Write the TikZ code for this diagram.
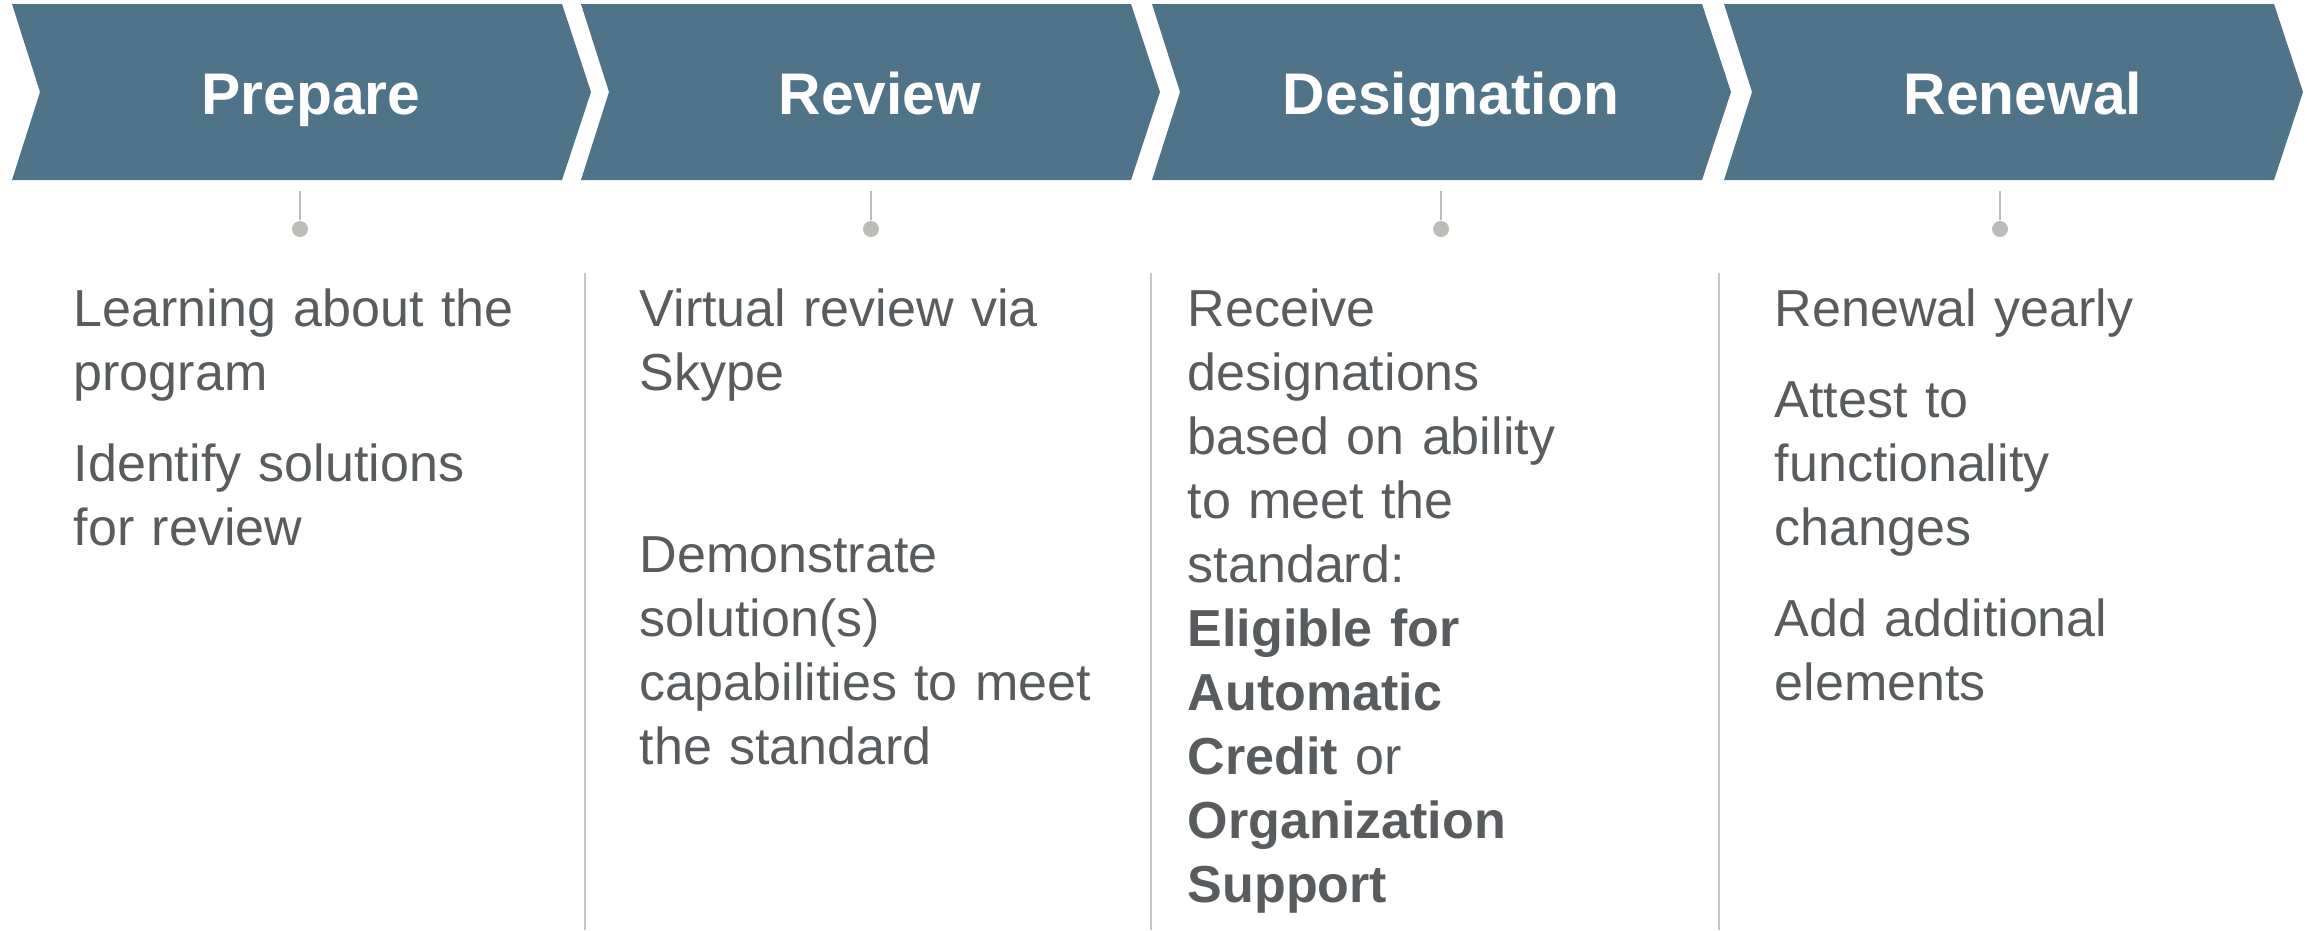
\documentclass[tikz,border=0pt]{standalone}
\usepackage{fontspec}
\setmainfont{Liberation Sans}

\definecolor{stepblue}{HTML}{4F7389}
\definecolor{bodygrey}{HTML}{595C5F}
\definecolor{tickgrey}{HTML}{BDBDB8}
\definecolor{rulegrey}{HTML}{C6C6C6}

\begin{document}
\begin{tikzpicture}[x=0.01cm,y=-0.01cm,chev/.style={fill=stepblue},ttl/.style={anchor=base,text=white,font=\fontsize{16.7}{20}\selectfont\bfseries},txt/.style={anchor=base west,text width=6cm,align=left,inner sep=0pt,text=bodygrey,font=\fontsize{14.8}{18.2}\selectfont},dot/.style={circle,fill=tickgrey,inner sep=0pt,minimum size=0.16cm},tick/.style={draw=tickgrey,line width=0.6pt},sep/.style={draw=rulegrey,line width=0.6pt}]
    \useasboundingbox (0,0) rectangle (2313,930);

    % chevrons
    \fill[chev] (12,4) -- ++(550,0) -- ++(29,88) -- ++(-29,88) -- ++(-550,0) -- ++(28,-88) -- cycle;
    \fill[chev] (581,4) -- ++(550,0) -- ++(29,88) -- ++(-29,88) -- ++(-550,0) -- ++(28,-88) -- cycle;
    \fill[chev] (1152,4) -- ++(550,0) -- ++(29,88) -- ++(-29,88) -- ++(-550,0) -- ++(28,-88) -- cycle;
    \fill[chev] (1724,4) -- ++(550,0) -- ++(29,88) -- ++(-29,88) -- ++(-550,0) -- ++(28,-88) -- cycle;

    \node[ttl] (prepare) at (311,114) {Prepare};
    \node[ttl] (review) at (880,114) {Review};
    \node[ttl] (design) at (1451,114) {Designation};
    \node[ttl] (renewal) at (2023,114) {Renewal};

    % ticks
    \coordinate (t1) at (300,191);
    \coordinate (t2) at (871,191);
    \coordinate (t3) at (1441,191);
    \coordinate (t4) at (2000,191);
    \node[dot] (d1) at (300,229) {};
    \node[dot] (d2) at (871,229) {};
    \node[dot] (d3) at (1441,229) {};
    \node[dot] (d4) at (2000,229) {};
    \draw[tick] (t1) -- (d1);
    \draw[tick] (t2) -- (d2);
    \draw[tick] (t3) -- (d3);
    \draw[tick] (t4) -- (d4);

    % separators
    \draw[sep] (585,273) -- (585,930);
    \draw[sep] (1151,273) -- (1151,930);
    \draw[sep] (1719,273) -- (1719,930);

    \node[txt] (preptxt) at (73,326) {Learning about the\\program\\[7.7pt]Identify solutions\\for review};
    \node[txt] (revtxt) at (639,326) {Virtual review via\\Skype\\[1.18cm]Demonstrate\\solution(s)\\capabilities to meet\\the standard};
    \node[txt] (destxt) at (1187,326) {Receive\\designations\\based on ability\\to meet the\\standard:\\\textbf{Eligible for}\\\textbf{Automatic}\\\textbf{Credit} or\\\textbf{Organization}\\\textbf{Support}};
    \node[txt] (rentxt) at (1774,326) {Renewal yearly\\[7.7pt]Attest to\\functionality\\changes\\[7.7pt]Add additional\\elements};
\end{tikzpicture}
\end{document}
